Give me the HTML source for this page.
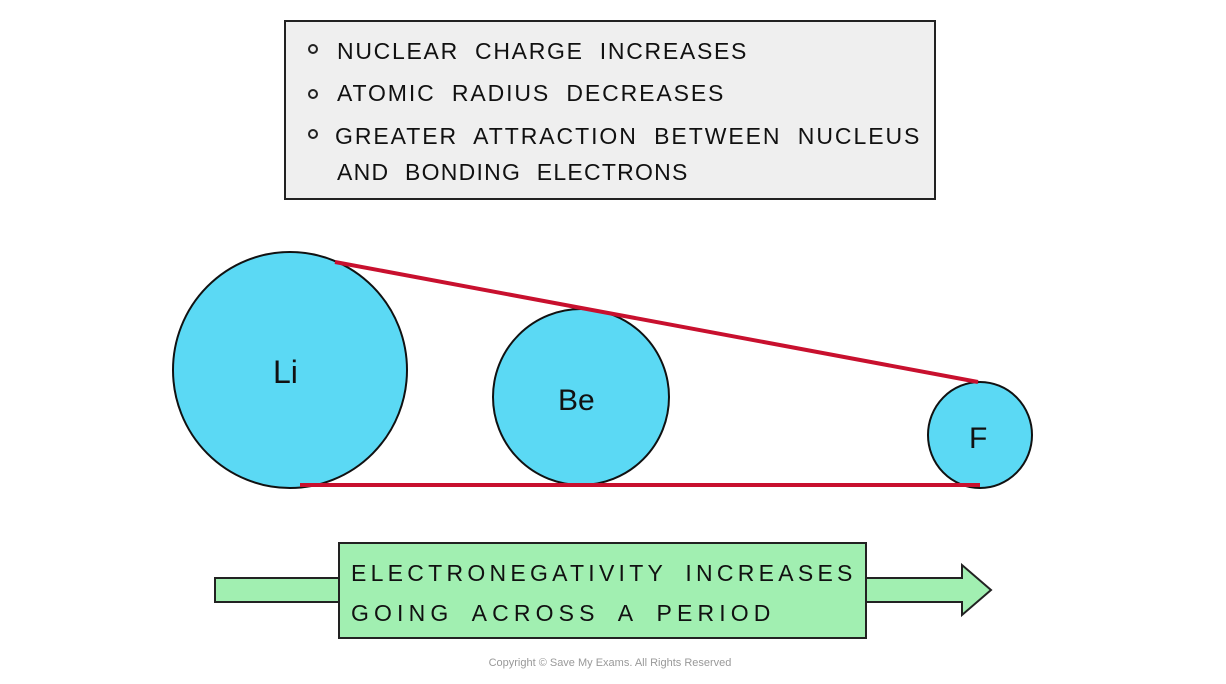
<!DOCTYPE html>
<html><head><meta charset="utf-8"><style>
html,body{margin:0;padding:0;background:#fff;}
svg{display:block}
text{font-family:"Liberation Sans",sans-serif;fill:#111}
.t{font-size:23px;letter-spacing:1.6px;word-spacing:8px}
</style></head><body>
<svg width="1226" height="684" viewBox="0 0 1226 684">
<rect x="285" y="21" width="650" height="178" fill="#efefef" stroke="#222" stroke-width="2"/>
<circle cx="313" cy="49" r="4" fill="none" stroke="#222" stroke-width="2"/>
<circle cx="313" cy="94" r="4" fill="none" stroke="#222" stroke-width="2"/>
<circle cx="313" cy="134" r="4" fill="none" stroke="#222" stroke-width="2"/>
<text class="t" x="337" y="59" textLength="411">NUCLEAR CHARGE INCREASES</text>
<text class="t" x="337" y="101" textLength="388">ATOMIC RADIUS DECREASES</text>
<text class="t" x="335" y="144" textLength="586">GREATER ATTRACTION BETWEEN NUCLEUS</text>
<text class="t" x="337" y="180" textLength="352">AND BONDING ELECTRONS</text>

<ellipse cx="290" cy="370" rx="117" ry="118" fill="#5bd9f4" stroke="#111" stroke-width="2"/>
<ellipse cx="581" cy="397" rx="88" ry="88" fill="#5bd9f4" stroke="#111" stroke-width="2"/>
<ellipse cx="980" cy="435" rx="52" ry="53" fill="#5bd9f4" stroke="#111" stroke-width="2"/>
<line x1="335" y1="262" x2="978" y2="382" stroke="#c8102e" stroke-width="4"/>
<line x1="300" y1="485" x2="980" y2="485" stroke="#c8102e" stroke-width="4"/>
<text x="273" y="383" font-size="32">Li</text>
<text x="558" y="410" font-size="30">Be</text>
<text x="969" y="448" font-size="30">F</text>

<rect x="215" y="578" width="130" height="24" fill="#a1efb1" stroke="#222" stroke-width="2"/>
<polygon points="862,578 962,578 962,565 991,590 962,615 962,602 862,602" fill="#a1efb1" stroke="#222" stroke-width="2"/>
<rect x="339" y="543" width="527" height="95" fill="#a1efb1" stroke="#222" stroke-width="2"/>
<text class="t" x="351" y="581" textLength="503" font-size="25">ELECTRONEGATIVITY INCREASES</text>
<text class="t" x="351" y="621" textLength="421" font-size="25">GOING ACROSS A PERIOD</text>
<text x="610" y="666" font-size="11" text-anchor="middle" style="fill:#999">Copyright © Save My Exams. All Rights Reserved</text>
</svg>
</body></html>
